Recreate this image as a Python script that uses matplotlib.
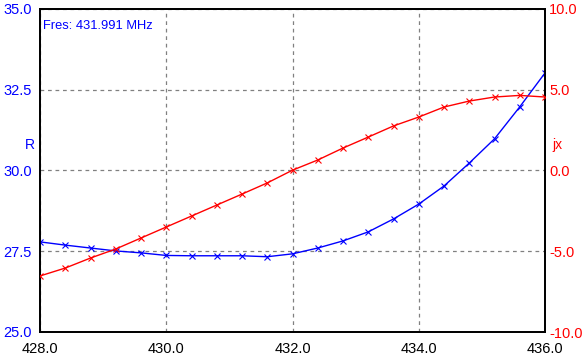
import numpy as np
import matplotlib.pyplot as plt

plt.rcParams['font.family'] = ['Liberation Sans', 'DejaVu Sans']

freq = [428.0, 428.4, 428.8, 429.2, 429.6, 430.0, 430.4, 430.8, 431.2, 431.6, 432.0,
        432.4, 432.8, 433.2, 433.6, 434.0, 434.4, 434.8, 435.2, 435.6, 436.0]
r_vals = [27.79, 27.69, 27.60, 27.51, 27.45, 27.37, 27.36, 27.36, 27.36, 27.33, 27.42,
          27.60, 27.82, 28.10, 28.50, 28.96, 29.52, 30.23, 30.98, 31.97, 33.02]
jx_vals = [-6.53, -6.04, -5.42, -4.86, -4.18, -3.50, -2.82, -2.14, -1.46, -0.77, 0.02,
           0.65, 1.39, 2.07, 2.76, 3.31, 3.93, 4.30, 4.55, 4.65, 4.55]
fres = 431.991

fig = plt.figure(figsize=(5.87, 3.62), dpi=100)
ax = fig.add_axes([40/587, 30/362, 505/587, 323/362])
ax2 = ax.twinx()

ax.plot(freq, r_vals, color='blue', lw=1, marker='x', ms=4.5, mew=0.8, zorder=3)
ax2.plot(freq, jx_vals, color='red', lw=1, marker='x', ms=4.5, mew=0.8, zorder=3)

ax.set_xlim(428, 436)
ax.set_ylim(25, 35)
ax2.set_ylim(-10, 10)
ax.set_xticks(np.arange(428, 436.1, 2))
ax.set_xticklabels(['%.1f' % v for v in np.arange(428, 436.1, 2)])
ax.set_yticks(np.arange(25, 35.1, 2.5))
ax.set_yticklabels(['%.1f' % v for v in np.arange(25, 35.1, 2.5)])
ax2.set_yticks(np.arange(-10, 10.1, 5))
ax2.set_yticklabels(['%.1f' % v for v in np.arange(-10, 10.1, 5)])

ax.grid(True, color='gray', ls=(0, (3, 3)), lw=0.9)
ax.tick_params(axis='both', length=0, labelsize=10.5)
ax.tick_params(axis='x', pad=7, colors='black')
ax.tick_params(axis='y', pad=6, labelcolor='blue')
ax2.tick_params(axis='y', length=0, pad=3, labelsize=10.5, labelcolor='red')
for a in (ax, ax2):
    for s in a.spines.values():
        s.set_linewidth(1.3)
        s.set_color('black')

ax.text(0.006, 0.965, 'Fres: %.3f MHz' % fres, transform=ax.transAxes,
        color='blue', fontsize=9.3, va='top', ha='left')
fig.text(30/587, 1 - 145/362, 'R', color='blue', fontsize=10, ha='center', va='center')
fig.text(557/587, 1 - 145/362, 'jx', color='red', fontsize=10, ha='center', va='center')

fig.savefig('out.png', dpi=100)
